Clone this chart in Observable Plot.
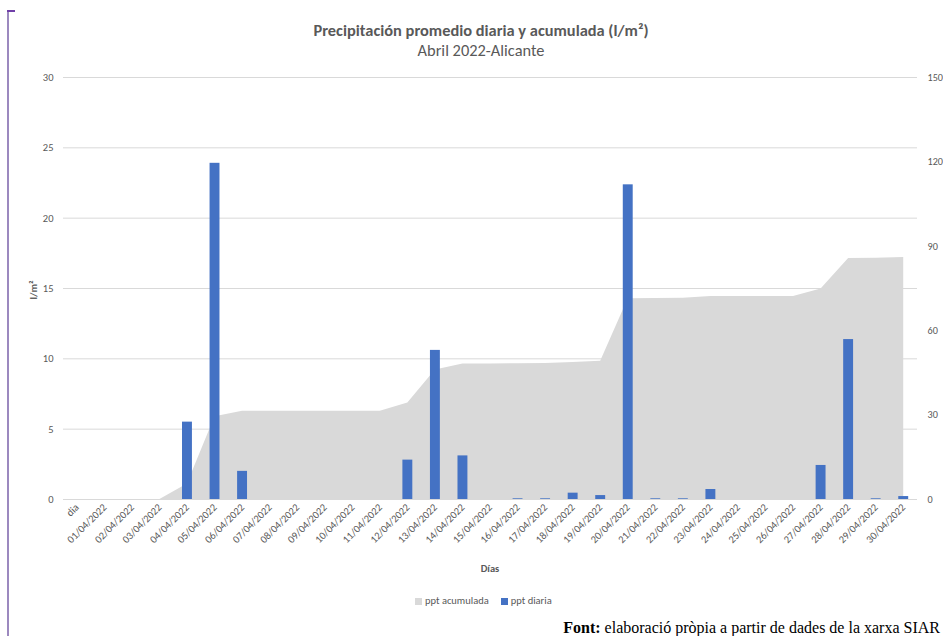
<!DOCTYPE html>
<html>
<head>
<meta charset="utf-8">
<script src="https://cdn.jsdelivr.net/npm/d3@7"></script>
<script src="https://cdn.jsdelivr.net/npm/@observablehq/plot@0.6"></script>
<style>
  body { margin: 0; background: #fff; font-family: Carlito, Lato, "Open Sans", sans-serif; }
  #wrap { position: relative; width: 943px; height: 636px; overflow: hidden; background: #fff; }
  #chart { position: absolute; left: 0; top: 0; }
  .abs { position: absolute; white-space: nowrap; color: #595959; }
  #bv { position: absolute; left: 7px; top: 10px; width: 1.5px; height: 626px; background: #9c89bf; }
  #bh { position: absolute; left: 7px; top: 10px; width: 8px; height: 1.5px; background: #7040a8; }
  #title { left: 0; width: 962px; top: 20px; text-align: center; font-size: 16.4px; font-weight: 700; line-height: 20px; }
  #subtitle { left: 0; width: 962px; top: 40px; text-align: center; font-size: 16.4px; line-height: 20px; }
  #ylabel { left: 33px; top: 290px; font-size: 10.5px; font-weight: 700; transform: translate(-50%, -50%) rotate(-90deg); }
  #xlabel { left: 490px; top: 568px; font-size: 10.5px; font-weight: 700; transform: translate(-50%, -50%); }
  #legend { left: 415px; top: 595px; font-size: 10.5px; line-height: 12px; display: flex; align-items: center; }
  #legend span.sw { display: inline-block; width: 7px; height: 7px; margin-right: 3px; }
  #legend span.it { margin-right: 12px; }
  #footer { right: 3px; top: 619px; font-family: "Liberation Serif", "DejaVu Serif", serif; font-size: 16px; color: #000; line-height: 17px; }
</style>
</head>
<body>
<div id="wrap">
  <div id="bv"></div><div id="bh"></div>
  <div id="title" class="abs">Precipitación promedio diaria y acumulada (l/m²)</div>
  <div id="subtitle" class="abs">Abril 2022-Alicante</div>
  <div id="chart"></div>
  <div id="ylabel" class="abs">l/m²</div>
  <div id="xlabel" class="abs">Días</div>
  <div id="legend" class="abs"></div>
  <div id="footer" class="abs"><b>Font:</b> elaboració pròpia a partir de dades de la xarxa SIAR</div>
</div>
<script>
const days = ["dia",
  "01/04/2022","02/04/2022","03/04/2022","04/04/2022","05/04/2022","06/04/2022","07/04/2022","08/04/2022","09/04/2022","10/04/2022",
  "11/04/2022","12/04/2022","13/04/2022","14/04/2022","15/04/2022","16/04/2022","17/04/2022","18/04/2022","19/04/2022","20/04/2022",
  "21/04/2022","22/04/2022","23/04/2022","24/04/2022","25/04/2022","26/04/2022","27/04/2022","28/04/2022","29/04/2022","30/04/2022"];
// ppt diaria (l/m², left axis)
const pptDiaria = [0,
  0, 0, 0, 5.5, 23.9, 2.0, 0, 0, 0, 0,
  0, 2.8, 10.6, 3.1, 0, 0.05, 0.05, 0.45, 0.28, 22.37,
  0.05, 0.05, 0.71, 0, 0, 0, 2.42, 11.37, 0.05, 0.21];
// ppt acumulada (l/m², right axis)
const pptAcumulada = [0,
  0, 0, 0, 5.5, 29.4, 31.4, 31.4, 31.4, 31.4, 31.4,
  31.4, 34.3, 46.0, 48.2, 48.2, 48.25, 48.3, 48.7, 49.1, 71.4,
  71.45, 71.5, 72.2, 72.2, 72.2, 72.2, 74.8, 85.7, 85.75, 86.0];
const leftTicks = [0, 5, 10, 15, 20, 25, 30];
const rightTicks = [0, 30, 60, 90, 120, 150];
const seriesNames = ["ppt acumulada", "ppt diaria"];
const colors = {acum: "#d9d9d9", daily: "#4472c4"};

const rows = days.map((d, i) => ({day: d, daily: pptDiaria[i], acum: pptAcumulada[i]}));
const ratio = rightTicks[rightTicks.length - 1] / leftTicks[leftTicks.length - 1];

// plot frame 63..917; the band range is widened by half the padding on each side
// so that each category occupies an equal slot of the frame
const frameL = 63, frameR = 917, pad = 0.64;
const step = (frameR - frameL) / days.length;
const xRange = [frameL - step * pad / 2, frameR + step * pad / 2];

const chart = Plot.plot({
  width: 943,
  height: 560,
  marginTop: 77,
  marginBottom: 61,
  marginLeft: frameL,
  marginRight: 943 - frameR,
  style: {fontFamily: "Carlito, Lato, 'Open Sans', sans-serif", color: "#595959", background: "transparent", overflow: "visible"},
  x: {type: "band", domain: days, padding: pad, round: false, range: xRange},
  y: {domain: [0, 30]},
  marks: [
    Plot.gridY(leftTicks, {stroke: "#d9d9d9", strokeOpacity: 1, strokeWidth: 1}),
    Plot.areaY(rows, {x: "day", y: d => d.acum / ratio, fill: colors.acum, curve: "linear"}),
    Plot.barY(rows, {x: "day", y: "daily", fill: colors.daily}),
    Plot.axisY(leftTicks, {anchor: "left", tickSize: 0, tickPadding: 10, fontSize: 10.5, label: null}),
    Plot.axisY(rightTicks.map(v => v / ratio), {anchor: "right", tickSize: 0, tickPadding: 10, fontSize: 10.2, label: null, tickFormat: d => String(Math.round(d * ratio))}),
    Plot.axisX({tickRotate: -45, tickSize: 0, tickPadding: 6, fontSize: 10.5, label: null})
  ]
});
document.getElementById("chart").appendChild(chart);

const legend = document.getElementById("legend");
[[seriesNames[0], colors.acum], [seriesNames[1], colors.daily]].forEach(([name, c]) => {
  const sw = document.createElement("span"); sw.className = "sw"; sw.style.background = c;
  const t = document.createElement("span"); t.className = "it"; t.textContent = name;
  legend.appendChild(sw); legend.appendChild(t);
});
</script>
</body>
</html>
